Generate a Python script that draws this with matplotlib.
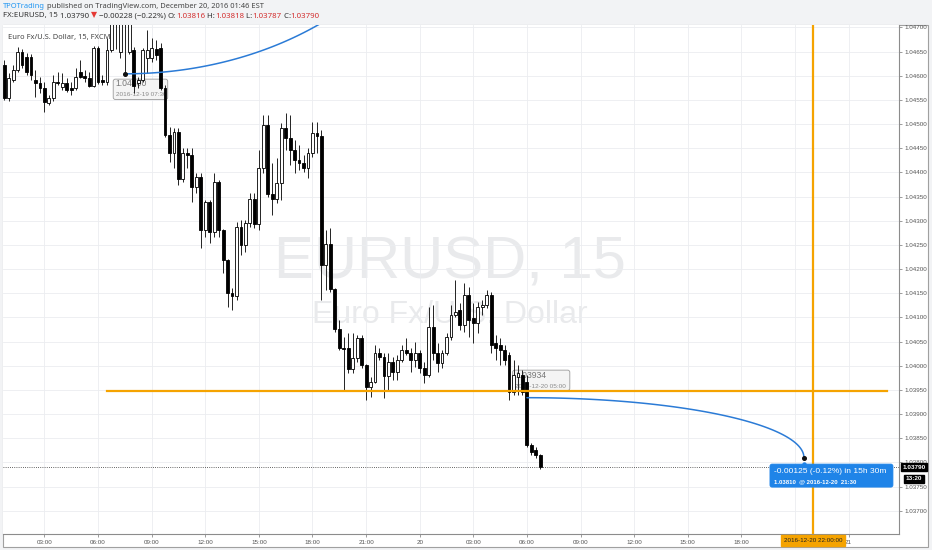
import matplotlib
matplotlib.use('Agg')
import matplotlib.pyplot as plt
from matplotlib.patches import Rectangle, FancyBboxPatch
import matplotlib.transforms as mtransforms
import numpy as np

plt.rcParams['font.family'] = ['Liberation Sans', 'DejaVu Sans']

# EURUSD 15 min bars, first bar 19 Dec 00:45, x measured in hours from 19 Dec 00:00
bar_start = 0.75
bar_step = 0.25

opens = [1.04622, 1.04554, 1.04591, 1.04612, 1.04649, 1.04639, 1.04639, 1.04591, 1.04585, 1.04575,
         1.04544, 1.04554, 1.04587, 1.04577, 1.04585, 1.04575, 1.04575, 1.04608, 1.04600, 1.04596,
         1.04579, 1.04658, 1.04591, 1.04587, 1.04653, 1.04711, 1.04649, 1.04712, 1.04649, 1.04653,
         1.04585, 1.04591, 1.04637, 1.04637, 1.04656, 1.04658, 1.04575, 1.04478, 1.04440, 1.04484,
         1.04387, 1.04440, 1.04436, 1.04370, 1.04391, 1.04281, 1.04339, 1.04277, 1.04380, 1.04281,
         1.04219, 1.04151, 1.04145, 1.04287, 1.04250, 1.04296, 1.04345, 1.04294, 1.04409, 1.04498,
         1.04356, 1.04345, 1.04378, 1.04492, 1.04471, 1.04447, 1.04426, 1.04420, 1.04409, 1.04440,
         1.04482, 1.04476, 1.04209, 1.04252, 1.04159, 1.04076, 1.04037, 1.04037, 1.03994, 1.04016,
         1.04058, 1.04002, 1.03956, 1.03967, 1.04027, 1.04018, 1.03979, 1.04008, 1.03987, 1.04012,
         1.04033, 1.04027, 1.04012, 1.04027, 1.03996, 1.03981, 1.04080, 1.04027, 1.04006, 1.04027,
         1.04060, 1.04105, 1.04116, 1.04085, 1.04147, 1.04099, 1.04089, 1.04122, 1.04126, 1.04147,
         1.04047, 1.04043, 1.04033, 1.04022, 1.03946, 1.03977, 1.03981, 1.03967, 1.03836, 1.03826,
         1.03816]
highs = [1.04633, 1.04606, 1.04622, 1.04660, 1.04656, 1.04647, 1.04645, 1.04612, 1.04598, 1.04587,
         1.04560, 1.04602, 1.04608, 1.04606, 1.04596, 1.04587, 1.04616, 1.04633, 1.04612, 1.04608,
         1.04662, 1.04662, 1.04602, 1.04678, 1.04726, 1.04740, 1.04726, 1.04745, 1.04740, 1.04660,
         1.04598, 1.04658, 1.04695, 1.04678, 1.04674, 1.04667, 1.04581, 1.04494, 1.04492, 1.04492,
         1.04451, 1.04451, 1.04451, 1.04399, 1.04399, 1.04343, 1.04343, 1.04399, 1.04384, 1.04283,
         1.04221, 1.04161, 1.04298, 1.04302, 1.04302, 1.04358, 1.04358, 1.04447, 1.04519, 1.04519,
         1.04420, 1.04430, 1.04503, 1.04523, 1.04519, 1.04467, 1.04457, 1.04436, 1.04451, 1.04505,
         1.04505, 1.04488, 1.04281, 1.04285, 1.04161, 1.04095, 1.04060, 1.04068, 1.04068, 1.04064,
         1.04064, 1.04004, 1.03977, 1.04043, 1.04037, 1.04027, 1.04027, 1.04018, 1.04022, 1.04043,
         1.04058, 1.04037, 1.04049, 1.04033, 1.04008, 1.04122, 1.04126, 1.04047, 1.04033, 1.04068,
         1.04126, 1.04178, 1.04130, 1.04171, 1.04163, 1.04130, 1.04132, 1.04136, 1.04157, 1.04153,
         1.04064, 1.04058, 1.04043, 1.04029, 1.04012, 1.04002, 1.03991, 1.03981, 1.03840, 1.03832,
         1.03818]
lows = [1.04550, 1.04548, 1.04587, 1.04608, 1.04616, 1.04602, 1.04591, 1.04556, 1.04565, 1.04525,
        1.04540, 1.04548, 1.04581, 1.04571, 1.04567, 1.04560, 1.04571, 1.04596, 1.04587, 1.04577,
        1.04577, 1.04583, 1.04581, 1.04581, 1.04649, 1.04655, 1.04637, 1.04604, 1.04645, 1.04565,
        1.04575, 1.04587, 1.04606, 1.04629, 1.04633, 1.04571, 1.04474, 1.04422, 1.04409, 1.04374,
        1.04380, 1.04409, 1.04339, 1.04358, 1.04244, 1.04267, 1.04254, 1.04267, 1.04267, 1.04192,
        1.04122, 1.04116, 1.04136, 1.04229, 1.04236, 1.04287, 1.04285, 1.04281, 1.04399, 1.04349,
        1.04312, 1.04337, 1.04343, 1.04447, 1.04416, 1.04399, 1.04405, 1.04401, 1.04389, 1.04432,
        1.04440, 1.04136, 1.04157, 1.04153, 1.04070, 1.04033, 1.03950, 1.03985, 1.03985, 1.04008,
        1.03996, 1.03929, 1.03936, 1.03965, 1.04012, 1.03934, 1.03950, 1.03971, 1.03971, 1.04008,
        1.04022, 1.03987, 1.03998, 1.03985, 1.03965, 1.03977, 1.04012, 1.03987, 1.03996, 1.04022,
        1.04053, 1.04101, 1.04074, 1.04070, 1.04060, 1.04047, 1.04068, 1.04105, 1.04120, 1.04027,
        1.04012, 1.04002, 1.04002, 1.03929, 1.03940, 1.03940, 1.03940, 1.03832, 1.03816, 1.03809,
        1.03787]
closes = [1.04554, 1.04596, 1.04612, 1.04649, 1.04622, 1.04608, 1.04602, 1.04585, 1.04575, 1.04546,
          1.04554, 1.04587, 1.04585, 1.04585, 1.04571, 1.04571, 1.04598, 1.04598, 1.04596, 1.04579,
          1.04658, 1.04587, 1.04587, 1.04653, 1.04711, 1.04722, 1.04716, 1.04725, 1.04720, 1.04579,
          1.04591, 1.04653, 1.04653, 1.04658, 1.04643, 1.04575, 1.04478, 1.04440, 1.04484, 1.04387,
          1.04440, 1.04436, 1.04370, 1.04391, 1.04281, 1.04339, 1.04277, 1.04380, 1.04281, 1.04219,
          1.04151, 1.04145, 1.04287, 1.04250, 1.04296, 1.04345, 1.04294, 1.04409, 1.04498, 1.04356,
          1.04345, 1.04378, 1.04492, 1.04471, 1.04447, 1.04426, 1.04420, 1.04409, 1.04440, 1.04482,
          1.04476, 1.04209, 1.04252, 1.04159, 1.04076, 1.04037, 1.04035, 1.03994, 1.04016, 1.04058,
          1.04002, 1.03956, 1.03967, 1.04027, 1.04018, 1.03979, 1.04008, 1.03987, 1.04012, 1.04033,
          1.04027, 1.04012, 1.04027, 1.03996, 1.03981, 1.04080, 1.04027, 1.04006, 1.04027, 1.04060,
          1.04105, 1.04111, 1.04085, 1.04147, 1.04095, 1.04089, 1.04122, 1.04126, 1.04147, 1.04043,
          1.04037, 1.04033, 1.04012, 1.03946, 1.03981, 1.03985, 1.03946, 1.03836, 1.03822, 1.03816,
          1.03790]

time_ticks = [3, 6, 9, 12, 15, 18, 21, 24, 27, 30, 33, 36, 39, 42, 45, 48]
# the 21:00 label of 20 Dec sits under the orange cursor label in the reference
time_labels = ['03:00', '06:00', '09:00', '12:00', '15:00', '18:00', '21:00', '20',
               '03:00', '06:00', '09:00', '12:00', '15:00', '18:00', '', '21']
price_ticks = [1.03700, 1.03750, 1.03800, 1.03850, 1.03900, 1.03950, 1.04000, 1.04050, 1.04100,
               1.04150, 1.04200, 1.04250, 1.04300, 1.04350, 1.04400, 1.04450, 1.04500, 1.04550,
               1.04600, 1.04650, 1.04700]

# drawings on the chart
arc1_start = (7.5, 1.04604)      # 2016-12-19 07:30
arc1_end = (25.4, 1.05102)
arc2_start = (30.0, 1.03934)     # 2016-12-20 06:00
arc2_end = (45.5, 1.03810)       # 2016-12-20 21:30
hline_price = 1.03947
hline_span = (6.5, 50.15)
vline_time = 46.0                # 2016-12-20 22:00
last_price = 1.03790

W, H = 932, 550
fig = plt.figure(figsize=(9.32, 5.5), dpi=100, facecolor='#f2f3f5')


def fx(px):
    return px / W


def fy(py):
    return 1 - py / H


# white panel holding chart and both scales
fig.patches.append(Rectangle((fx(3), fy(547)), fx(928) - fx(3), fy(25) - fy(547),
                             transform=fig.transFigure, facecolor='white',
                             edgecolor='#a0a0a0', lw=0.8, zorder=-1))

ax = fig.add_axes([fx(3), fy(534), fx(899) - fx(3), fy(25) - fy(534)])
ax.set_zorder(2)
ax.set_facecolor('white')
ax.set_xlim(0.683, 50.82)
ax.set_ylim(1.03652, 1.04705)
for s in ['left', 'top']:
    ax.spines[s].set_visible(False)
for s in ['right', 'bottom']:
    ax.spines[s].set_color('#8c8c8c')
    ax.spines[s].set_linewidth(0.8)

ax.yaxis.tick_right()
ax.set_yticks(price_ticks)
ax.set_yticklabels(['%.5f' % p for p in price_ticks])
ax.set_xticks(time_ticks)
ax.set_xticklabels(time_labels)
ax.tick_params(axis='both', direction='out', length=2.5, width=0.6, color='#8c8c8c',
               labelsize=4.5, labelcolor='#555555', pad=1.5)
ax.grid(True, color='#ebedf0', lw=0.6, zorder=0)
ax.set_axisbelow(True)

# watermark
ax.text(0.499, 0.532, 'EURUSD, 15', transform=ax.transAxes, ha='center', va='center',
        fontsize=43, color='#e9eaec', zorder=0.5)
ax.text(0.499, 0.43, 'Euro Fx/U.S. Dollar', transform=ax.transAxes, ha='center', va='center',
        fontsize=23, color='#e9eaec', zorder=0.5)

# candles
t = bar_start + bar_step * np.arange(len(closes))
o = np.array(opens)
c = np.array(closes)
up = c >= o
ax.vlines(t, lows, highs, color='#222222', lw=0.7, zorder=3)
body_lo = np.minimum(o, c)
body_h = np.maximum(np.abs(c - o), 0.000012)
ax.bar(t, body_h, bottom=body_lo, width=0.16, color=np.where(up, 'white', 'black'),
       edgecolor='black', lw=0.6, zorder=4)

# price label boxes (behind candles)
asp = 2.069e-5 / 0.05596
box1 = FancyBboxPatch((6.85, 1.04551), 3.05, 0.00042, boxstyle='round,pad=0,rounding_size=0.12',
                      mutation_aspect=asp, facecolor='#f4f4f4', edgecolor='#9a9a9a', lw=0.6, zorder=2)
ax.add_patch(box1)
ax.text(6.98, 1.04584, '1.04600', fontsize=6.2, color='#777777', va='center', zorder=2.1)
ax.text(6.98, 1.04561, '2016-12-19 07:30', fontsize=4.6, color='#8a8a8a', va='center', zorder=2.1)
box2 = FancyBboxPatch((29.2, 1.03949), 3.2, 0.00042, boxstyle='round,pad=0,rounding_size=0.12',
                      mutation_aspect=asp, facecolor='#f4f4f4', edgecolor='#9a9a9a', lw=0.6, zorder=2)
ax.add_patch(box2)
ax.text(29.33, 1.03980, '1.03934', fontsize=6.2, color='#777777', va='center', zorder=2.1)
ax.text(29.33, 1.03958, '2016-12-20 05:00', fontsize=4.6, color='#8a8a8a', va='center', zorder=2.1)

# arcs
th = np.linspace(0, np.pi / 2, 120)
for (t0, p0), (t1, p1) in [(arc1_start, arc1_end), (arc2_start, arc2_end)]:
    ax.plot(t0 + (t1 - t0) * np.sin(th), p0 + (p1 - p0) * (1 - np.cos(th)),
            color='#2b7bd6', lw=1.1, zorder=5, solid_capstyle='round')
ax.plot([arc1_start[0]], [arc1_start[1]], 'o', color='#111111', ms=2.6, zorder=6)
ax.plot([arc2_end[0]], [arc2_end[1]], 'o', color='#111111', ms=2.6, zorder=6)

# orange lines
ax.plot(hline_span, [hline_price, hline_price], color='#f5a300', lw=1.6, zorder=6)
ax.axvline(vline_time, color='#f5a300', lw=1.6, zorder=6)

# last price dotted line
ax.axhline(last_price, color='#333333', lw=0.6, ls=(0, (1, 1.6)), zorder=6)

# blue measure label
box3 = FancyBboxPatch((43.6, 1.03749), 6.88, 0.000476, boxstyle='round,pad=0,rounding_size=0.12',
                      mutation_aspect=asp, facecolor='#1f84e8', edgecolor='#1f84e8', lw=0.6, zorder=7)
ax.add_patch(box3)
ax.plot([arc2_end[0]], [1.03797], 'o', color='#1f84e8', ms=2.2, zorder=7)
ax.text(43.82, 1.03782, '-0.00125 (-0.12%) in 15h 30m', fontsize=6.0, color='white',
        va='center', zorder=8)
ax.text(43.82, 1.03759, '1.03810  @ 2016-12-20  21:30', fontsize=4.3, color='white',
        fontweight='bold', va='center', zorder=8)

# scale labels
ytr = mtransforms.blended_transform_factory(ax.transAxes, ax.transData)
ax.text(1.0035, last_price, '1.03790', transform=ytr, fontsize=4.6, color='white', fontweight='bold',
        va='center', ha='left', zorder=9, clip_on=False,
        bbox=dict(boxstyle='square,pad=0.25', facecolor='black', edgecolor='black'))
ax.text(1.0075, 1.03766, '13:20', transform=ytr, fontsize=4.6, color='white', fontweight='bold',
        va='center', ha='left', zorder=9, clip_on=False,
        bbox=dict(boxstyle='square,pad=0.25', facecolor='black', edgecolor='black'))
xtr = mtransforms.blended_transform_factory(ax.transData, ax.transAxes)
ax.text(vline_time, -0.013, '2016-12-20 22:00:00', transform=xtr, fontsize=4.5, color='#222222',
        va='center', ha='center', zorder=9, clip_on=False,
        bbox=dict(boxstyle='square,pad=0.45', facecolor='#f5a300', edgecolor='#f5a300'))

ax.text(0.0056, 0.976, 'Euro Fx/U.S. Dollar, 15, FXCM', transform=ax.transAxes,
        fontsize=5.4, color='#444444', va='center', family=['Noto Sans', 'DejaVu Sans'], zorder=8)

# header lines
renderer = fig.canvas.get_renderer()


def text_run(x0, y0, parts, size):
    x = x0
    for s, col, wt in parts:
        tx = fig.text(fx(x), fy(y0), s, color=col, fontweight=wt, fontsize=size, va='center',
                      ha='left', family=['Noto Sans', 'DejaVu Sans'])
        bb = tx.get_window_extent(renderer)
        x += bb.width


dark = '#333333'
red = '#d32f2f'
text_run(3, 6, [('TPOTrading', '#2196f3', 'bold'),
                (' published on TradingView.com, December 20, 2016 01:46 EST', '#444444', 'normal')], 5.4)
text_run(3, 16, [('FX:EURUSD, 15 ', dark, 'bold'), ('1.03790 ', dark, 'normal'),
                 ('\u25bc', '#e53935', 'normal'), (' \u22120.00228 (\u22120.22%) ', dark, 'normal'),
                 ('O:', dark, 'bold'), ('1.03816', red, 'normal'), (' H:', dark, 'bold'),
                 ('1.03818', red, 'normal'), (' L:', dark, 'bold'), ('1.03787', red, 'normal'),
                 (' C:', dark, 'bold'), ('1.03790', red, 'normal')], 5.65)

fig.savefig('out.png', dpi=100, facecolor=fig.get_facecolor())
